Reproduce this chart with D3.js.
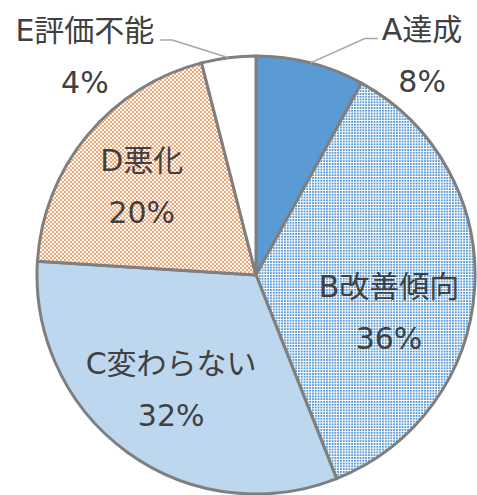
<!DOCTYPE html>
<html>
<head>
<meta charset="utf-8">
<script src="https://cdn.jsdelivr.net/npm/d3@7"></script>
<style>
  html, body { margin: 0; padding: 0; background: #fff; }
  text { font-family: "DejaVu Sans", "Noto Sans CJK JP", sans-serif; fill: #404040; }
</style>
</head>
<body>
<div id="chart"></div>
<script>
const categories = ['A達成', 'B改善傾向', 'C変わらない', 'D悪化', 'E評価不能'];
const values = [8, 36, 32, 20, 4];
const fills = ['#5b9bd5', 'url(#dots)', '#bdd7ee', 'url(#checker)', '#ffffff'];
// label anchor per slice: distance from centre and angle (deg, clockwise from top)
const labelAt = [[276, 37], [138, 105.5], [142, 216.7], [145, 308], [278, 322]];
const outside = [true, false, false, false, true];

const width = 477, height = 495;
const cx = 256, cy = 275, radius = 219;

const svg = d3.select('#chart').append('svg').attr('width', width).attr('height', height);
const defs = svg.append('defs');

const dots = defs.append('pattern').attr('id', 'dots').attr('patternUnits', 'userSpaceOnUse')
  .attr('width', 2.8).attr('height', 2.8);
dots.append('rect').attr('width', 2.8).attr('height', 2.8).attr('fill', '#fff');
dots.append('rect').attr('width', 1.8).attr('height', 1.8).attr('fill', '#5b9bd5')
  .attr('shape-rendering', 'crispEdges');

const checker = defs.append('pattern').attr('id', 'checker').attr('patternUnits', 'userSpaceOnUse')
  .attr('width', 4).attr('height', 4);
checker.append('rect').attr('width', 4).attr('height', 4).attr('fill', '#fff');
checker.append('rect').attr('width', 2).attr('height', 2).attr('fill', '#f4a572');
checker.append('rect').attr('x', 2).attr('y', 2).attr('width', 2).attr('height', 2).attr('fill', '#f4a572');

const g = svg.append('g').attr('transform', `translate(${cx},${cy})`);

const pie = d3.pie().sort(null).value(d => d)(values);
const arc = d3.arc().innerRadius(0).outerRadius(radius);

g.selectAll('path.slice').data(pie).join('path')
  .attr('class', 'slice')
  .attr('d', arc)
  .attr('fill', (d, i) => fills[i])
  .attr('stroke', '#7f7f7f')
  .attr('stroke-width', 3)
  .attr('stroke-linejoin', 'round');

const rad = a => a * Math.PI / 180;
const fontSize = 30;

pie.forEach((d, i) => {
  const [r, deg] = labelAt[i];
  const x = r * Math.sin(rad(deg));
  const y = -r * Math.cos(rad(deg));
  const lab = g.append('g');
  const t1 = lab.append('text').attr('x', x).attr('y', y - 15).attr('text-anchor', 'middle')
    .style('font-size', fontSize + 'px').text(categories[i]);
  lab.append('text').attr('x', x).attr('y', y + 37).attr('text-anchor', 'middle')
    .style('font-size', fontSize + 'px').text(values[i] + '%');

  if (outside[i]) {
    const mid = (d.startAngle + d.endAngle) / 2;
    const p0 = [radius * Math.sin(mid), -radius * Math.cos(mid)];
    const box = t1.node().getBBox();
    const right = p0[0] > x;
    const endX = right ? box.x + box.width + 6 : box.x - 4;
    const elbowX = right ? endX + 12 : endX - 13;
    const ly = y - 16;
    g.insert('polyline', 'g')
      .attr('points', [p0, [elbowX, ly], [endX, ly]].map(p => p.join(',')).join(' '))
      .attr('fill', 'none')
      .attr('stroke', '#a6a6a6')
      .attr('stroke-width', 1.5);
  }
});
</script>
</body>
</html>
